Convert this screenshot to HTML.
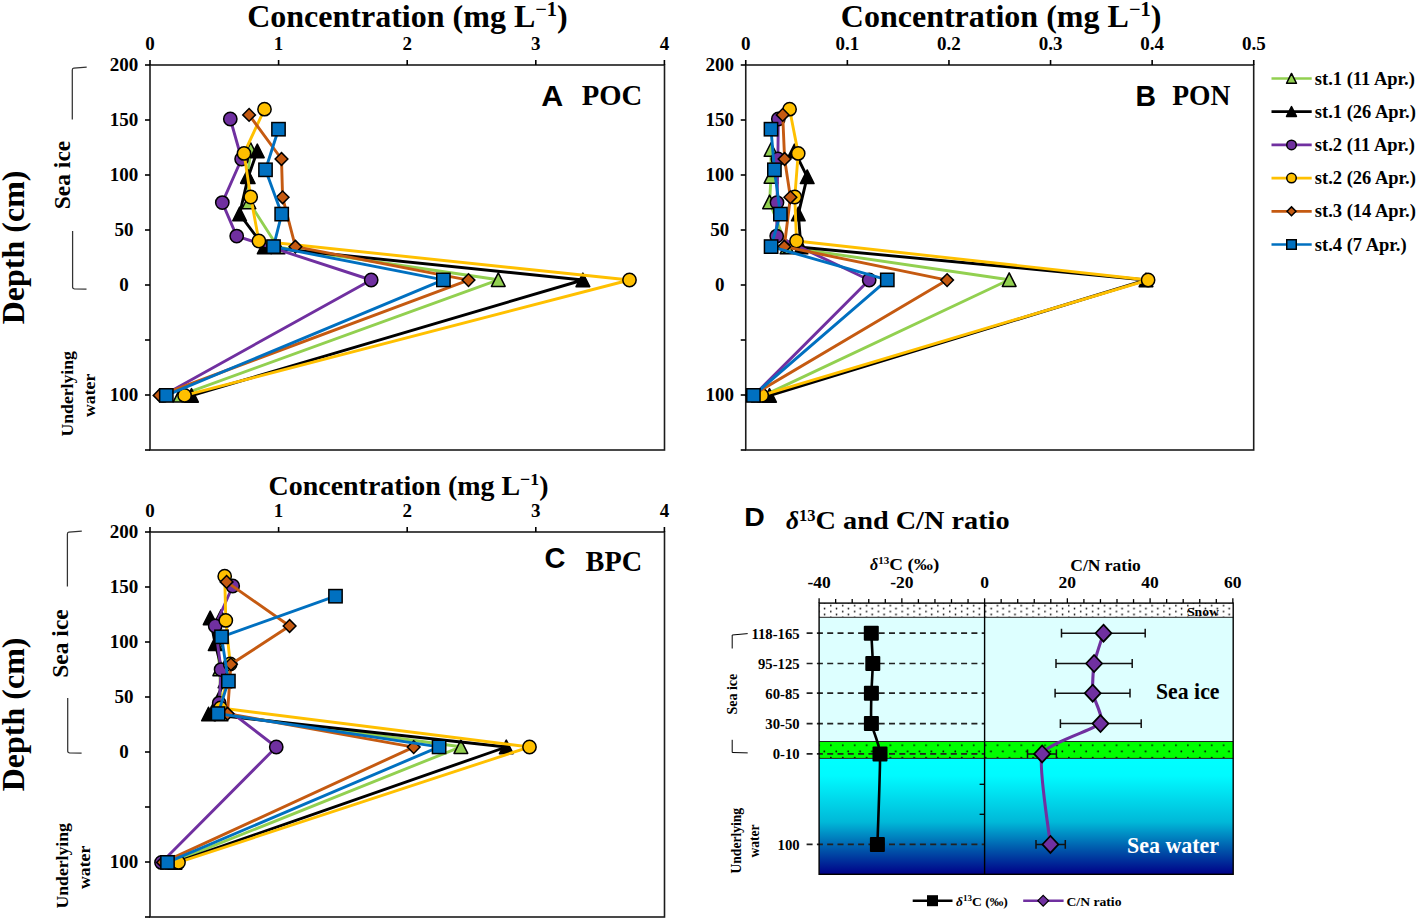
<!DOCTYPE html>
<html><head><meta charset="utf-8"><style>
html,body{margin:0;padding:0;background:#fff;overflow:hidden;}
svg{display:block;}
</style></head><body>
<svg width="1417" height="920" viewBox="0 0 1417 920">
<rect width="1417" height="920" fill="#fff"/>
<text x="247.2" y="27.2" font-family="'Liberation Serif', serif" font-weight="bold" font-size="31.5" textLength="320.5" lengthAdjust="spacingAndGlyphs">Concentration (mg L<tspan font-size="20" dy="-11">−1</tspan><tspan dy="11">)</tspan></text>
<rect x="150" y="65" width="514.5" height="385" fill="none" stroke="#1c1c1c" stroke-width="1.6"/>
<line x1="150.0" y1="65" x2="150.0" y2="60" stroke="#000" stroke-width="1.6"/>
<line x1="278.6" y1="65" x2="278.6" y2="60" stroke="#000" stroke-width="1.6"/>
<line x1="407.2" y1="65" x2="407.2" y2="60" stroke="#000" stroke-width="1.6"/>
<line x1="535.8" y1="65" x2="535.8" y2="60" stroke="#000" stroke-width="1.6"/>
<line x1="664.4" y1="65" x2="664.4" y2="60" stroke="#000" stroke-width="1.6"/>
<line x1="150" y1="65" x2="145" y2="65" stroke="#000" stroke-width="1.6"/>
<line x1="150" y1="120" x2="145" y2="120" stroke="#000" stroke-width="1.6"/>
<line x1="150" y1="175" x2="145" y2="175" stroke="#000" stroke-width="1.6"/>
<line x1="150" y1="230" x2="145" y2="230" stroke="#000" stroke-width="1.6"/>
<line x1="150" y1="285" x2="145" y2="285" stroke="#000" stroke-width="1.6"/>
<line x1="150" y1="340" x2="145" y2="340" stroke="#000" stroke-width="1.6"/>
<line x1="150" y1="395" x2="145" y2="395" stroke="#000" stroke-width="1.6"/>
<line x1="150" y1="450" x2="145" y2="450" stroke="#000" stroke-width="1.6"/>
<text x="150.0" y="50.1" font-family="'Liberation Serif', serif" font-weight="bold" font-size="19" text-anchor="middle">0</text>
<text x="278.6" y="50.1" font-family="'Liberation Serif', serif" font-weight="bold" font-size="19" text-anchor="middle">1</text>
<text x="407.2" y="50.1" font-family="'Liberation Serif', serif" font-weight="bold" font-size="19" text-anchor="middle">2</text>
<text x="535.8" y="50.1" font-family="'Liberation Serif', serif" font-weight="bold" font-size="19" text-anchor="middle">3</text>
<text x="664.4" y="50.1" font-family="'Liberation Serif', serif" font-weight="bold" font-size="19" text-anchor="middle">4</text>
<text x="123.9" y="71.4" font-family="'Liberation Serif', serif" font-weight="bold" font-size="19" text-anchor="middle">200</text>
<text x="123.9" y="126.4" font-family="'Liberation Serif', serif" font-weight="bold" font-size="19" text-anchor="middle">150</text>
<text x="123.9" y="181.4" font-family="'Liberation Serif', serif" font-weight="bold" font-size="19" text-anchor="middle">100</text>
<text x="123.9" y="236.4" font-family="'Liberation Serif', serif" font-weight="bold" font-size="19" text-anchor="middle">50</text>
<text x="123.9" y="291.4" font-family="'Liberation Serif', serif" font-weight="bold" font-size="19" text-anchor="middle">0</text>
<text x="123.9" y="401.4" font-family="'Liberation Serif', serif" font-weight="bold" font-size="19" text-anchor="middle">100</text>
<text x="541.3" y="105.7" font-family="'Liberation Sans', sans-serif" font-weight="bold" font-size="29" textLength="22" lengthAdjust="spacingAndGlyphs">A</text><text x="581.8" y="105.3" font-family="'Liberation Serif', serif" font-weight="bold" font-size="30" textLength="60.5" lengthAdjust="spacingAndGlyphs">POC</text>
<path d="M250.70,149.70 L247.50,176.50 L248.90,202.00 L278.00,247.20 L498.30,279.80 L180.00,395.40" fill="none" stroke="#92D050" stroke-width="2.9" stroke-linejoin="round"/>
<path d="M250.70,142.75 L257.55,156.35 L243.85,156.35Z" fill="#92D050" stroke="#000" stroke-width="1.5" stroke-linejoin="round"/>
<path d="M247.50,169.55 L254.35,183.15 L240.65,183.15Z" fill="#92D050" stroke="#000" stroke-width="1.5" stroke-linejoin="round"/>
<path d="M248.90,195.05 L255.75,208.65 L242.05,208.65Z" fill="#92D050" stroke="#000" stroke-width="1.5" stroke-linejoin="round"/>
<path d="M278.00,240.25 L284.85,253.85 L271.15,253.85Z" fill="#92D050" stroke="#000" stroke-width="1.5" stroke-linejoin="round"/>
<path d="M498.30,272.85 L505.15,286.45 L491.45,286.45Z" fill="#92D050" stroke="#000" stroke-width="1.5" stroke-linejoin="round"/>
<path d="M180.00,388.45 L186.85,402.05 L173.15,402.05Z" fill="#92D050" stroke="#000" stroke-width="1.5" stroke-linejoin="round"/>
<path d="M257.30,151.00 L248.20,176.90 L239.60,214.10 L264.20,247.20 L582.90,280.00 L191.50,395.50" fill="none" stroke="#000000" stroke-width="2.9" stroke-linejoin="round"/>
<path d="M257.30,144.05 L264.15,157.65 L250.45,157.65Z" fill="#000000" stroke="#000" stroke-width="1.5" stroke-linejoin="round"/>
<path d="M248.20,169.95 L255.05,183.55 L241.35,183.55Z" fill="#000000" stroke="#000" stroke-width="1.5" stroke-linejoin="round"/>
<path d="M239.60,207.15 L246.45,220.75 L232.75,220.75Z" fill="#000000" stroke="#000" stroke-width="1.5" stroke-linejoin="round"/>
<path d="M264.20,240.25 L271.05,253.85 L257.35,253.85Z" fill="#000000" stroke="#000" stroke-width="1.5" stroke-linejoin="round"/>
<path d="M582.90,273.05 L589.75,286.65 L576.05,286.65Z" fill="#000000" stroke="#000" stroke-width="1.5" stroke-linejoin="round"/>
<path d="M191.50,388.55 L198.35,402.15 L184.65,402.15Z" fill="#000000" stroke="#000" stroke-width="1.5" stroke-linejoin="round"/>
<path d="M230.30,119.00 L241.60,159.00 L222.30,202.60 L236.70,236.10 L371.20,280.00 L163.00,395.40" fill="none" stroke="#7030A0" stroke-width="2.9" stroke-linejoin="round"/>
<circle cx="230.30" cy="119.00" r="6.65" fill="#7030A0" stroke="#000" stroke-width="1.5"/>
<circle cx="241.60" cy="159.00" r="6.65" fill="#7030A0" stroke="#000" stroke-width="1.5"/>
<circle cx="222.30" cy="202.60" r="6.65" fill="#7030A0" stroke="#000" stroke-width="1.5"/>
<circle cx="236.70" cy="236.10" r="6.65" fill="#7030A0" stroke="#000" stroke-width="1.5"/>
<circle cx="371.20" cy="280.00" r="6.65" fill="#7030A0" stroke="#000" stroke-width="1.5"/>
<circle cx="163.00" cy="395.40" r="6.65" fill="#7030A0" stroke="#000" stroke-width="1.5"/>
<path d="M264.50,109.20 L244.00,153.40 L250.70,197.00 L258.90,241.00 L629.50,280.00 L184.60,395.40" fill="none" stroke="#FFC000" stroke-width="2.9" stroke-linejoin="round"/>
<circle cx="264.50" cy="109.20" r="6.65" fill="#FFC000" stroke="#000" stroke-width="1.5"/>
<circle cx="244.00" cy="153.40" r="6.65" fill="#FFC000" stroke="#000" stroke-width="1.5"/>
<circle cx="250.70" cy="197.00" r="6.65" fill="#FFC000" stroke="#000" stroke-width="1.5"/>
<circle cx="258.90" cy="241.00" r="6.65" fill="#FFC000" stroke="#000" stroke-width="1.5"/>
<circle cx="629.50" cy="280.00" r="6.65" fill="#FFC000" stroke="#000" stroke-width="1.5"/>
<circle cx="184.60" cy="395.40" r="6.65" fill="#FFC000" stroke="#000" stroke-width="1.5"/>
<path d="M249.10,114.90 L281.50,159.00 L282.60,197.30 L295.40,246.70 L468.50,280.10 L159.60,395.40" fill="none" stroke="#C55A11" stroke-width="2.9" stroke-linejoin="round"/>
<path d="M249.10,108.55 L255.45,114.90 L249.10,121.25 L242.75,114.90Z" fill="#C55A11" stroke="#000" stroke-width="1.5"/>
<path d="M281.50,152.65 L287.85,159.00 L281.50,165.35 L275.15,159.00Z" fill="#C55A11" stroke="#000" stroke-width="1.5"/>
<path d="M282.60,190.95 L288.95,197.30 L282.60,203.65 L276.25,197.30Z" fill="#C55A11" stroke="#000" stroke-width="1.5"/>
<path d="M295.40,240.35 L301.75,246.70 L295.40,253.05 L289.05,246.70Z" fill="#C55A11" stroke="#000" stroke-width="1.5"/>
<path d="M468.50,273.75 L474.85,280.10 L468.50,286.45 L462.15,280.10Z" fill="#C55A11" stroke="#000" stroke-width="1.5"/>
<path d="M159.60,389.05 L165.95,395.40 L159.60,401.75 L153.25,395.40Z" fill="#C55A11" stroke="#000" stroke-width="1.5"/>
<path d="M278.50,129.20 L265.50,169.80 L281.70,214.10 L273.50,246.60 L443.40,279.90 L166.30,395.40" fill="none" stroke="#0070C0" stroke-width="2.9" stroke-linejoin="round"/>
<rect x="271.85" y="122.55" width="13.30" height="13.30" fill="#0070C0" stroke="#000" stroke-width="1.5"/>
<rect x="258.85" y="163.15" width="13.30" height="13.30" fill="#0070C0" stroke="#000" stroke-width="1.5"/>
<rect x="275.05" y="207.45" width="13.30" height="13.30" fill="#0070C0" stroke="#000" stroke-width="1.5"/>
<rect x="266.85" y="239.95" width="13.30" height="13.30" fill="#0070C0" stroke="#000" stroke-width="1.5"/>
<rect x="436.75" y="273.25" width="13.30" height="13.30" fill="#0070C0" stroke="#000" stroke-width="1.5"/>
<rect x="159.65" y="388.75" width="13.30" height="13.30" fill="#0070C0" stroke="#000" stroke-width="1.5"/>
<text x="840.8" y="27.2" font-family="'Liberation Serif', serif" font-weight="bold" font-size="31.5" textLength="320.5" lengthAdjust="spacingAndGlyphs">Concentration (mg L<tspan font-size="20" dy="-11">−1</tspan><tspan dy="11">)</tspan></text>
<rect x="745.75" y="65" width="507.95000000000005" height="385" fill="none" stroke="#1c1c1c" stroke-width="1.6"/>
<line x1="745.75" y1="65" x2="745.75" y2="60" stroke="#000" stroke-width="1.6"/>
<line x1="847.35" y1="65" x2="847.35" y2="60" stroke="#000" stroke-width="1.6"/>
<line x1="948.95" y1="65" x2="948.95" y2="60" stroke="#000" stroke-width="1.6"/>
<line x1="1050.55" y1="65" x2="1050.55" y2="60" stroke="#000" stroke-width="1.6"/>
<line x1="1152.15" y1="65" x2="1152.15" y2="60" stroke="#000" stroke-width="1.6"/>
<line x1="1253.75" y1="65" x2="1253.75" y2="60" stroke="#000" stroke-width="1.6"/>
<line x1="745.75" y1="65" x2="740.75" y2="65" stroke="#000" stroke-width="1.6"/>
<line x1="745.75" y1="120" x2="740.75" y2="120" stroke="#000" stroke-width="1.6"/>
<line x1="745.75" y1="175" x2="740.75" y2="175" stroke="#000" stroke-width="1.6"/>
<line x1="745.75" y1="230" x2="740.75" y2="230" stroke="#000" stroke-width="1.6"/>
<line x1="745.75" y1="285" x2="740.75" y2="285" stroke="#000" stroke-width="1.6"/>
<line x1="745.75" y1="340" x2="740.75" y2="340" stroke="#000" stroke-width="1.6"/>
<line x1="745.75" y1="395" x2="740.75" y2="395" stroke="#000" stroke-width="1.6"/>
<line x1="745.75" y1="450" x2="740.75" y2="450" stroke="#000" stroke-width="1.6"/>
<text x="745.75" y="50.1" font-family="'Liberation Serif', serif" font-weight="bold" font-size="19" text-anchor="middle">0</text>
<text x="847.35" y="50.1" font-family="'Liberation Serif', serif" font-weight="bold" font-size="19" text-anchor="middle">0.1</text>
<text x="948.95" y="50.1" font-family="'Liberation Serif', serif" font-weight="bold" font-size="19" text-anchor="middle">0.2</text>
<text x="1050.55" y="50.1" font-family="'Liberation Serif', serif" font-weight="bold" font-size="19" text-anchor="middle">0.3</text>
<text x="1152.15" y="50.1" font-family="'Liberation Serif', serif" font-weight="bold" font-size="19" text-anchor="middle">0.4</text>
<text x="1253.75" y="50.1" font-family="'Liberation Serif', serif" font-weight="bold" font-size="19" text-anchor="middle">0.5</text>
<text x="719.65" y="71.4" font-family="'Liberation Serif', serif" font-weight="bold" font-size="19" text-anchor="middle">200</text>
<text x="719.65" y="126.4" font-family="'Liberation Serif', serif" font-weight="bold" font-size="19" text-anchor="middle">150</text>
<text x="719.65" y="181.4" font-family="'Liberation Serif', serif" font-weight="bold" font-size="19" text-anchor="middle">100</text>
<text x="719.65" y="236.4" font-family="'Liberation Serif', serif" font-weight="bold" font-size="19" text-anchor="middle">50</text>
<text x="719.65" y="291.4" font-family="'Liberation Serif', serif" font-weight="bold" font-size="19" text-anchor="middle">0</text>
<text x="719.65" y="401.4" font-family="'Liberation Serif', serif" font-weight="bold" font-size="19" text-anchor="middle">100</text>
<text x="1135.6" y="105.7" font-family="'Liberation Sans', sans-serif" font-weight="bold" font-size="29" textLength="20.5" lengthAdjust="spacingAndGlyphs">B</text><text x="1172.2" y="105.3" font-family="'Liberation Serif', serif" font-weight="bold" font-size="30" textLength="58.2" lengthAdjust="spacingAndGlyphs">PON</text>
<path d="M771.00,149.70 L771.00,176.50 L769.60,202.00 L787.00,247.20 L1009.20,279.80 L764.00,395.40" fill="none" stroke="#92D050" stroke-width="2.9" stroke-linejoin="round"/>
<path d="M771.00,142.75 L777.85,156.35 L764.15,156.35Z" fill="#92D050" stroke="#000" stroke-width="1.5" stroke-linejoin="round"/>
<path d="M771.00,169.55 L777.85,183.15 L764.15,183.15Z" fill="#92D050" stroke="#000" stroke-width="1.5" stroke-linejoin="round"/>
<path d="M769.60,195.05 L776.45,208.65 L762.75,208.65Z" fill="#92D050" stroke="#000" stroke-width="1.5" stroke-linejoin="round"/>
<path d="M787.00,240.25 L793.85,253.85 L780.15,253.85Z" fill="#92D050" stroke="#000" stroke-width="1.5" stroke-linejoin="round"/>
<path d="M1009.20,272.85 L1016.05,286.45 L1002.35,286.45Z" fill="#92D050" stroke="#000" stroke-width="1.5" stroke-linejoin="round"/>
<path d="M764.00,388.45 L770.85,402.05 L757.15,402.05Z" fill="#92D050" stroke="#000" stroke-width="1.5" stroke-linejoin="round"/>
<path d="M794.40,151.00 L807.20,176.90 L798.30,214.10 L801.00,247.20 L1146.00,280.00 L769.50,395.50" fill="none" stroke="#000000" stroke-width="2.9" stroke-linejoin="round"/>
<path d="M794.40,144.05 L801.25,157.65 L787.55,157.65Z" fill="#000000" stroke="#000" stroke-width="1.5" stroke-linejoin="round"/>
<path d="M807.20,169.95 L814.05,183.55 L800.35,183.55Z" fill="#000000" stroke="#000" stroke-width="1.5" stroke-linejoin="round"/>
<path d="M798.30,207.15 L805.15,220.75 L791.45,220.75Z" fill="#000000" stroke="#000" stroke-width="1.5" stroke-linejoin="round"/>
<path d="M801.00,240.25 L807.85,253.85 L794.15,253.85Z" fill="#000000" stroke="#000" stroke-width="1.5" stroke-linejoin="round"/>
<path d="M1146.00,273.05 L1152.85,286.65 L1139.15,286.65Z" fill="#000000" stroke="#000" stroke-width="1.5" stroke-linejoin="round"/>
<path d="M769.50,388.55 L776.35,402.15 L762.65,402.15Z" fill="#000000" stroke="#000" stroke-width="1.5" stroke-linejoin="round"/>
<path d="M778.30,119.00 L777.90,159.00 L777.00,202.60 L776.70,236.10 L869.20,280.00 L754.00,395.40" fill="none" stroke="#7030A0" stroke-width="2.9" stroke-linejoin="round"/>
<circle cx="778.30" cy="119.00" r="6.65" fill="#7030A0" stroke="#000" stroke-width="1.5"/>
<circle cx="777.90" cy="159.00" r="6.65" fill="#7030A0" stroke="#000" stroke-width="1.5"/>
<circle cx="777.00" cy="202.60" r="6.65" fill="#7030A0" stroke="#000" stroke-width="1.5"/>
<circle cx="776.70" cy="236.10" r="6.65" fill="#7030A0" stroke="#000" stroke-width="1.5"/>
<circle cx="869.20" cy="280.00" r="6.65" fill="#7030A0" stroke="#000" stroke-width="1.5"/>
<circle cx="754.00" cy="395.40" r="6.65" fill="#7030A0" stroke="#000" stroke-width="1.5"/>
<path d="M789.60,109.20 L798.20,153.40 L794.80,197.00 L796.50,241.00 L1148.10,280.00 L761.70,395.40" fill="none" stroke="#FFC000" stroke-width="2.9" stroke-linejoin="round"/>
<circle cx="789.60" cy="109.20" r="6.65" fill="#FFC000" stroke="#000" stroke-width="1.5"/>
<circle cx="798.20" cy="153.40" r="6.65" fill="#FFC000" stroke="#000" stroke-width="1.5"/>
<circle cx="794.80" cy="197.00" r="6.65" fill="#FFC000" stroke="#000" stroke-width="1.5"/>
<circle cx="796.50" cy="241.00" r="6.65" fill="#FFC000" stroke="#000" stroke-width="1.5"/>
<circle cx="1148.10" cy="280.00" r="6.65" fill="#FFC000" stroke="#000" stroke-width="1.5"/>
<circle cx="761.70" cy="395.40" r="6.65" fill="#FFC000" stroke="#000" stroke-width="1.5"/>
<path d="M782.70,114.90 L784.60,159.00 L790.40,197.30 L784.30,246.70 L947.10,280.10 L752.00,395.40" fill="none" stroke="#C55A11" stroke-width="2.9" stroke-linejoin="round"/>
<path d="M782.70,108.55 L789.05,114.90 L782.70,121.25 L776.35,114.90Z" fill="#C55A11" stroke="#000" stroke-width="1.5"/>
<path d="M784.60,152.65 L790.95,159.00 L784.60,165.35 L778.25,159.00Z" fill="#C55A11" stroke="#000" stroke-width="1.5"/>
<path d="M790.40,190.95 L796.75,197.30 L790.40,203.65 L784.05,197.30Z" fill="#C55A11" stroke="#000" stroke-width="1.5"/>
<path d="M784.30,240.35 L790.65,246.70 L784.30,253.05 L777.95,246.70Z" fill="#C55A11" stroke="#000" stroke-width="1.5"/>
<path d="M947.10,273.75 L953.45,280.10 L947.10,286.45 L940.75,280.10Z" fill="#C55A11" stroke="#000" stroke-width="1.5"/>
<path d="M752.00,389.05 L758.35,395.40 L752.00,401.75 L745.65,395.40Z" fill="#C55A11" stroke="#000" stroke-width="1.5"/>
<path d="M771.00,129.20 L774.40,169.80 L780.40,214.10 L771.10,246.60 L887.30,279.90 L753.40,395.40" fill="none" stroke="#0070C0" stroke-width="2.9" stroke-linejoin="round"/>
<rect x="764.35" y="122.55" width="13.30" height="13.30" fill="#0070C0" stroke="#000" stroke-width="1.5"/>
<rect x="767.75" y="163.15" width="13.30" height="13.30" fill="#0070C0" stroke="#000" stroke-width="1.5"/>
<rect x="773.75" y="207.45" width="13.30" height="13.30" fill="#0070C0" stroke="#000" stroke-width="1.5"/>
<rect x="764.45" y="239.95" width="13.30" height="13.30" fill="#0070C0" stroke="#000" stroke-width="1.5"/>
<rect x="880.65" y="273.25" width="13.30" height="13.30" fill="#0070C0" stroke="#000" stroke-width="1.5"/>
<rect x="746.75" y="388.75" width="13.30" height="13.30" fill="#0070C0" stroke="#000" stroke-width="1.5"/>
<line x1="1271.5" y1="78.5" x2="1311.7" y2="78.5" stroke="#92D050" stroke-width="2.7"/>
<path d="M1291.50,73.45 L1296.45,83.25 L1286.55,83.25Z" fill="#92D050" stroke="#000" stroke-width="1.5" stroke-linejoin="round"/>
<text x="1314.8" y="84.6" font-family="'Liberation Serif', serif" font-weight="bold" font-size="18.5">st.1 (11 Apr.)</text>
<line x1="1271.5" y1="111.7" x2="1311.7" y2="111.7" stroke="#000000" stroke-width="2.7"/>
<path d="M1291.50,106.65 L1296.45,116.45 L1286.55,116.45Z" fill="#000000" stroke="#000" stroke-width="1.5" stroke-linejoin="round"/>
<text x="1314.8" y="117.8" font-family="'Liberation Serif', serif" font-weight="bold" font-size="18.5">st.1 (26 Apr.)</text>
<line x1="1271.5" y1="144.9" x2="1311.7" y2="144.9" stroke="#7030A0" stroke-width="2.7"/>
<circle cx="1291.50" cy="144.90" r="4.75" fill="#7030A0" stroke="#000" stroke-width="1.5"/>
<text x="1314.8" y="151.0" font-family="'Liberation Serif', serif" font-weight="bold" font-size="18.5">st.2 (11 Apr.)</text>
<line x1="1271.5" y1="178.10000000000002" x2="1311.7" y2="178.10000000000002" stroke="#FFC000" stroke-width="2.7"/>
<circle cx="1291.50" cy="178.10" r="4.75" fill="#FFC000" stroke="#000" stroke-width="1.5"/>
<text x="1314.8" y="184.20000000000002" font-family="'Liberation Serif', serif" font-weight="bold" font-size="18.5">st.2 (26 Apr.)</text>
<line x1="1271.5" y1="211.3" x2="1311.7" y2="211.3" stroke="#C55A11" stroke-width="2.7"/>
<path d="M1291.50,206.85 L1295.95,211.30 L1291.50,215.75 L1287.05,211.30Z" fill="#C55A11" stroke="#000" stroke-width="1.5"/>
<text x="1314.8" y="217.4" font-family="'Liberation Serif', serif" font-weight="bold" font-size="18.5">st.3 (14 Apr.)</text>
<line x1="1271.5" y1="244.5" x2="1311.7" y2="244.5" stroke="#0070C0" stroke-width="2.7"/>
<rect x="1286.75" y="239.75" width="9.50" height="9.50" fill="#0070C0" stroke="#000" stroke-width="1.5"/>
<text x="1314.8" y="250.6" font-family="'Liberation Serif', serif" font-weight="bold" font-size="18.5">st.4 (7 Apr.)</text>
<text transform="translate(24.3,247.4) rotate(-90)" font-family="'Liberation Serif', serif" font-weight="bold" font-size="32" text-anchor="middle">Depth (cm)</text>
<text transform="translate(69.8,175) rotate(-90)" font-family="'Liberation Serif', serif" font-weight="bold" font-size="23.5" text-anchor="middle">Sea ice</text>
<path d="M86.7,67.2 L73.8,68.2 Q72.3,68.4 72.3,70 L72.3,119.6" fill="none" stroke="#333" stroke-width="1.25"/>
<path d="M72.6,230.9 L72.6,287.6 Q72.6,288.6 74.3,288.8 L86.5,289.1" fill="none" stroke="#333" stroke-width="1.25"/>
<text transform="translate(72.7,393.8) rotate(-90)" font-family="'Liberation Serif', serif" font-weight="bold" font-size="17.7" text-anchor="middle">Underlying</text>
<text transform="translate(94.8,395.3) rotate(-90)" font-family="'Liberation Serif', serif" font-weight="bold" font-size="17.7" text-anchor="middle">water</text>
<text transform="translate(24.3,714.4) rotate(-90)" font-family="'Liberation Serif', serif" font-weight="bold" font-size="32" text-anchor="middle">Depth (cm)</text>
<text transform="translate(68.3,643.5) rotate(-90)" font-family="'Liberation Serif', serif" font-weight="bold" font-size="23.5" text-anchor="middle">Sea ice</text>
<path d="M81.80000000000001,531.2 L68.9,532.2 Q67.4,532.4 67.4,534 L67.4,586.6" fill="none" stroke="#333" stroke-width="1.25"/>
<path d="M67.7,697.9 L67.7,751.6 Q67.7,752.6 69.4,752.8 L81.60000000000001,753.1" fill="none" stroke="#333" stroke-width="1.25"/>
<text transform="translate(68.2,865.8) rotate(-90)" font-family="'Liberation Serif', serif" font-weight="bold" font-size="17.7" text-anchor="middle">Underlying</text>
<text transform="translate(90.3,867.3) rotate(-90)" font-family="'Liberation Serif', serif" font-weight="bold" font-size="17.7" text-anchor="middle">water</text>
<text x="268.5" y="495.2" font-family="'Liberation Serif', serif" font-weight="bold" font-size="27.5" textLength="280" lengthAdjust="spacingAndGlyphs">Concentration (mg L<tspan font-size="17.5" dy="-10">−1</tspan><tspan dy="10">)</tspan></text>
<rect x="150" y="532" width="514.5" height="385" fill="none" stroke="#1c1c1c" stroke-width="1.6"/>
<line x1="150.0" y1="532" x2="150.0" y2="527" stroke="#000" stroke-width="1.6"/>
<line x1="278.6" y1="532" x2="278.6" y2="527" stroke="#000" stroke-width="1.6"/>
<line x1="407.2" y1="532" x2="407.2" y2="527" stroke="#000" stroke-width="1.6"/>
<line x1="535.8" y1="532" x2="535.8" y2="527" stroke="#000" stroke-width="1.6"/>
<line x1="664.4" y1="532" x2="664.4" y2="527" stroke="#000" stroke-width="1.6"/>
<line x1="150" y1="532" x2="145" y2="532" stroke="#000" stroke-width="1.6"/>
<line x1="150" y1="587" x2="145" y2="587" stroke="#000" stroke-width="1.6"/>
<line x1="150" y1="642" x2="145" y2="642" stroke="#000" stroke-width="1.6"/>
<line x1="150" y1="697" x2="145" y2="697" stroke="#000" stroke-width="1.6"/>
<line x1="150" y1="752" x2="145" y2="752" stroke="#000" stroke-width="1.6"/>
<line x1="150" y1="807" x2="145" y2="807" stroke="#000" stroke-width="1.6"/>
<line x1="150" y1="862" x2="145" y2="862" stroke="#000" stroke-width="1.6"/>
<line x1="150" y1="917" x2="145" y2="917" stroke="#000" stroke-width="1.6"/>
<text x="150.0" y="517.1" font-family="'Liberation Serif', serif" font-weight="bold" font-size="19" text-anchor="middle">0</text>
<text x="278.6" y="517.1" font-family="'Liberation Serif', serif" font-weight="bold" font-size="19" text-anchor="middle">1</text>
<text x="407.2" y="517.1" font-family="'Liberation Serif', serif" font-weight="bold" font-size="19" text-anchor="middle">2</text>
<text x="535.8" y="517.1" font-family="'Liberation Serif', serif" font-weight="bold" font-size="19" text-anchor="middle">3</text>
<text x="664.4" y="517.1" font-family="'Liberation Serif', serif" font-weight="bold" font-size="19" text-anchor="middle">4</text>
<text x="123.9" y="538.4" font-family="'Liberation Serif', serif" font-weight="bold" font-size="19" text-anchor="middle">200</text>
<text x="123.9" y="593.4" font-family="'Liberation Serif', serif" font-weight="bold" font-size="19" text-anchor="middle">150</text>
<text x="123.9" y="648.4" font-family="'Liberation Serif', serif" font-weight="bold" font-size="19" text-anchor="middle">100</text>
<text x="123.9" y="703.4" font-family="'Liberation Serif', serif" font-weight="bold" font-size="19" text-anchor="middle">50</text>
<text x="123.9" y="758.4" font-family="'Liberation Serif', serif" font-weight="bold" font-size="19" text-anchor="middle">0</text>
<text x="123.9" y="868.4" font-family="'Liberation Serif', serif" font-weight="bold" font-size="19" text-anchor="middle">100</text>
<text x="544.6" y="568.2" font-family="'Liberation Sans', sans-serif" font-weight="bold" font-size="29">C</text><text x="585.6" y="570.7" font-family="'Liberation Serif', serif" font-weight="bold" font-size="30" textLength="56.5" lengthAdjust="spacingAndGlyphs">BPC</text>
<path d="M221.00,616.70 L217.00,643.50 L219.80,669.00 L221.00,714.20 L460.90,746.80 L172.00,862.40" fill="none" stroke="#92D050" stroke-width="2.9" stroke-linejoin="round"/>
<path d="M221.00,609.75 L227.85,623.35 L214.15,623.35Z" fill="#92D050" stroke="#000" stroke-width="1.5" stroke-linejoin="round"/>
<path d="M217.00,636.55 L223.85,650.15 L210.15,650.15Z" fill="#92D050" stroke="#000" stroke-width="1.5" stroke-linejoin="round"/>
<path d="M219.80,662.05 L226.65,675.65 L212.95,675.65Z" fill="#92D050" stroke="#000" stroke-width="1.5" stroke-linejoin="round"/>
<path d="M221.00,707.25 L227.85,720.85 L214.15,720.85Z" fill="#92D050" stroke="#000" stroke-width="1.5" stroke-linejoin="round"/>
<path d="M460.90,739.85 L467.75,753.45 L454.05,753.45Z" fill="#92D050" stroke="#000" stroke-width="1.5" stroke-linejoin="round"/>
<path d="M172.00,855.45 L178.85,869.05 L165.15,869.05Z" fill="#92D050" stroke="#000" stroke-width="1.5" stroke-linejoin="round"/>
<path d="M210.20,618.00 L215.20,643.90 L225.00,681.10 L208.50,714.20 L506.30,747.00 L175.00,862.50" fill="none" stroke="#000000" stroke-width="2.9" stroke-linejoin="round"/>
<path d="M210.20,611.05 L217.05,624.65 L203.35,624.65Z" fill="#000000" stroke="#000" stroke-width="1.5" stroke-linejoin="round"/>
<path d="M215.20,636.95 L222.05,650.55 L208.35,650.55Z" fill="#000000" stroke="#000" stroke-width="1.5" stroke-linejoin="round"/>
<path d="M225.00,674.15 L231.85,687.75 L218.15,687.75Z" fill="#000000" stroke="#000" stroke-width="1.5" stroke-linejoin="round"/>
<path d="M208.50,707.25 L215.35,720.85 L201.65,720.85Z" fill="#000000" stroke="#000" stroke-width="1.5" stroke-linejoin="round"/>
<path d="M506.30,740.05 L513.15,753.65 L499.45,753.65Z" fill="#000000" stroke="#000" stroke-width="1.5" stroke-linejoin="round"/>
<path d="M175.00,855.55 L181.85,869.15 L168.15,869.15Z" fill="#000000" stroke="#000" stroke-width="1.5" stroke-linejoin="round"/>
<path d="M232.70,586.00 L215.20,626.00 L221.10,669.60 L219.20,703.10 L276.25,747.00 L161.50,862.40" fill="none" stroke="#7030A0" stroke-width="2.9" stroke-linejoin="round"/>
<circle cx="232.70" cy="586.00" r="6.65" fill="#7030A0" stroke="#000" stroke-width="1.5"/>
<circle cx="215.20" cy="626.00" r="6.65" fill="#7030A0" stroke="#000" stroke-width="1.5"/>
<circle cx="221.10" cy="669.60" r="6.65" fill="#7030A0" stroke="#000" stroke-width="1.5"/>
<circle cx="219.20" cy="703.10" r="6.65" fill="#7030A0" stroke="#000" stroke-width="1.5"/>
<circle cx="276.25" cy="747.00" r="6.65" fill="#7030A0" stroke="#000" stroke-width="1.5"/>
<circle cx="161.50" cy="862.40" r="6.65" fill="#7030A0" stroke="#000" stroke-width="1.5"/>
<path d="M224.70,576.20 L225.80,620.40 L230.20,664.00 L220.50,708.00 L529.50,747.00 L178.50,862.40" fill="none" stroke="#FFC000" stroke-width="2.9" stroke-linejoin="round"/>
<circle cx="224.70" cy="576.20" r="6.65" fill="#FFC000" stroke="#000" stroke-width="1.5"/>
<circle cx="225.80" cy="620.40" r="6.65" fill="#FFC000" stroke="#000" stroke-width="1.5"/>
<circle cx="230.20" cy="664.00" r="6.65" fill="#FFC000" stroke="#000" stroke-width="1.5"/>
<circle cx="220.50" cy="708.00" r="6.65" fill="#FFC000" stroke="#000" stroke-width="1.5"/>
<circle cx="529.50" cy="747.00" r="6.65" fill="#FFC000" stroke="#000" stroke-width="1.5"/>
<circle cx="178.50" cy="862.40" r="6.65" fill="#FFC000" stroke="#000" stroke-width="1.5"/>
<path d="M226.60,581.90 L289.60,626.00 L230.90,664.30 L227.50,713.70 L413.70,747.10 L163.00,862.40" fill="none" stroke="#C55A11" stroke-width="2.9" stroke-linejoin="round"/>
<path d="M226.60,575.55 L232.95,581.90 L226.60,588.25 L220.25,581.90Z" fill="#C55A11" stroke="#000" stroke-width="1.5"/>
<path d="M289.60,619.65 L295.95,626.00 L289.60,632.35 L283.25,626.00Z" fill="#C55A11" stroke="#000" stroke-width="1.5"/>
<path d="M230.90,657.95 L237.25,664.30 L230.90,670.65 L224.55,664.30Z" fill="#C55A11" stroke="#000" stroke-width="1.5"/>
<path d="M227.50,707.35 L233.85,713.70 L227.50,720.05 L221.15,713.70Z" fill="#C55A11" stroke="#000" stroke-width="1.5"/>
<path d="M413.70,740.75 L420.05,747.10 L413.70,753.45 L407.35,747.10Z" fill="#C55A11" stroke="#000" stroke-width="1.5"/>
<path d="M163.00,856.05 L169.35,862.40 L163.00,868.75 L156.65,862.40Z" fill="#C55A11" stroke="#000" stroke-width="1.5"/>
<path d="M335.50,596.20 L221.50,636.80 L228.40,681.10 L218.10,713.60 L439.10,746.90 L167.50,862.40" fill="none" stroke="#0070C0" stroke-width="2.9" stroke-linejoin="round"/>
<rect x="328.85" y="589.55" width="13.30" height="13.30" fill="#0070C0" stroke="#000" stroke-width="1.5"/>
<rect x="214.85" y="630.15" width="13.30" height="13.30" fill="#0070C0" stroke="#000" stroke-width="1.5"/>
<rect x="221.75" y="674.45" width="13.30" height="13.30" fill="#0070C0" stroke="#000" stroke-width="1.5"/>
<rect x="211.45" y="706.95" width="13.30" height="13.30" fill="#0070C0" stroke="#000" stroke-width="1.5"/>
<rect x="432.45" y="740.25" width="13.30" height="13.30" fill="#0070C0" stroke="#000" stroke-width="1.5"/>
<rect x="160.85" y="855.75" width="13.30" height="13.30" fill="#0070C0" stroke="#000" stroke-width="1.5"/>
<defs>
<pattern id="dots" x="0" y="0" width="11.9" height="5.9" patternUnits="userSpaceOnUse">
<circle cx="9.7" cy="3.7" r="0.85" fill="#000"/><circle cx="3.5" cy="0.75" r="0.85" fill="#000"/><circle cx="3.5" cy="6.65" r="0.85" fill="#000"/>
</pattern>
<pattern id="gdots" x="0" y="0" width="11.9" height="12.3" patternUnits="userSpaceOnUse">
<circle cx="9.8" cy="7.2" r="0.9" fill="#000"/><circle cx="3.25" cy="1.2" r="0.9" fill="#000"/>
</pattern>
<linearGradient id="sea" x1="0" y1="0" x2="0" y2="1">
<stop offset="0" stop-color="#00FFFF"/><stop offset="0.15" stop-color="#00FAFF"/><stop offset="0.55" stop-color="#00B8D8"/><stop offset="0.8" stop-color="#0050A8"/><stop offset="1" stop-color="#000088"/>
</linearGradient>
</defs>
<rect x="819.1" y="603.1" width="414.1" height="14.199999999999932" fill="#fff"/>
<rect x="819.1" y="603.1" width="414.1" height="14.199999999999932" fill="url(#dots)"/>
<rect x="819.1" y="617.3" width="414.1" height="124.20000000000005" fill="#DDFFFF"/>
<rect x="819.1" y="741.5" width="414.1" height="16.899999999999977" fill="#00FF00"/>
<rect x="819.1" y="741.5" width="414.1" height="16.899999999999977" fill="url(#gdots)"/>
<rect x="819.1" y="758.4" width="414.1" height="115.89999999999998" fill="url(#sea)"/>
<line x1="819.1" y1="617.3" x2="1233.2" y2="617.3" stroke="#222" stroke-width="1"/>
<line x1="819.1" y1="741.5" x2="1233.2" y2="741.5" stroke="#222" stroke-width="1"/>
<line x1="819.1" y1="758.4" x2="1233.2" y2="758.4" stroke="#222" stroke-width="1"/>
<text x="1187" y="615.6" font-family="'Liberation Serif', serif" font-weight="bold" font-size="13" textLength="32" lengthAdjust="spacingAndGlyphs">Snow</text>
<line x1="805.6" y1="633.2" x2="984.6" y2="633.2" stroke="#222" stroke-width="1.7" stroke-dasharray="6,4.3" stroke-dashoffset="-1"/>
<text x="799.6" y="638.5" font-family="'Liberation Serif', serif" font-weight="bold" font-size="14.7" text-anchor="end">118-165</text>
<line x1="805.6" y1="663.5" x2="984.6" y2="663.5" stroke="#222" stroke-width="1.7" stroke-dasharray="6,4.3" stroke-dashoffset="-1"/>
<text x="799.6" y="668.8" font-family="'Liberation Serif', serif" font-weight="bold" font-size="14.7" text-anchor="end">95-125</text>
<line x1="805.6" y1="693.2" x2="984.6" y2="693.2" stroke="#222" stroke-width="1.7" stroke-dasharray="6,4.3" stroke-dashoffset="-1"/>
<text x="799.6" y="698.5" font-family="'Liberation Serif', serif" font-weight="bold" font-size="14.7" text-anchor="end">60-85</text>
<line x1="805.6" y1="723.6" x2="984.6" y2="723.6" stroke="#222" stroke-width="1.7" stroke-dasharray="6,4.3" stroke-dashoffset="-1"/>
<text x="799.6" y="728.9" font-family="'Liberation Serif', serif" font-weight="bold" font-size="14.7" text-anchor="end">30-50</text>
<line x1="805.6" y1="753.9" x2="984.6" y2="753.9" stroke="#222" stroke-width="1.7" stroke-dasharray="6,4.3" stroke-dashoffset="-1"/>
<text x="799.6" y="759.1999999999999" font-family="'Liberation Serif', serif" font-weight="bold" font-size="14.7" text-anchor="end">0-10</text>
<line x1="805.6" y1="844.4" x2="984.6" y2="844.4" stroke="#222" stroke-width="1.7" stroke-dasharray="6,4.3" stroke-dashoffset="-1"/>
<text x="799.6" y="849.6999999999999" font-family="'Liberation Serif', serif" font-weight="bold" font-size="14.7" text-anchor="end">100</text>
<line x1="979.6" y1="784.3" x2="984.6" y2="784.3" stroke="#000" stroke-width="1.3"/>
<line x1="979.6" y1="814.3" x2="984.6" y2="814.3" stroke="#000" stroke-width="1.3"/>
<rect x="819.1" y="603.1" width="414.1" height="271.19999999999993" fill="none" stroke="#000" stroke-width="1.4"/>
<line x1="984.6" y1="603.1" x2="984.6" y2="874.3" stroke="#000" stroke-width="1.4"/>
<line x1="819.10" y1="603.1" x2="819.10" y2="598.3000000000001" stroke="#000" stroke-width="1.3"/>
<line x1="835.65" y1="603.1" x2="835.65" y2="599.1" stroke="#000" stroke-width="1.3"/>
<line x1="852.20" y1="603.1" x2="852.20" y2="599.1" stroke="#000" stroke-width="1.3"/>
<line x1="868.75" y1="603.1" x2="868.75" y2="599.1" stroke="#000" stroke-width="1.3"/>
<line x1="885.30" y1="603.1" x2="885.30" y2="599.1" stroke="#000" stroke-width="1.3"/>
<line x1="901.85" y1="603.1" x2="901.85" y2="598.3000000000001" stroke="#000" stroke-width="1.3"/>
<line x1="918.40" y1="603.1" x2="918.40" y2="599.1" stroke="#000" stroke-width="1.3"/>
<line x1="934.95" y1="603.1" x2="934.95" y2="599.1" stroke="#000" stroke-width="1.3"/>
<line x1="951.50" y1="603.1" x2="951.50" y2="599.1" stroke="#000" stroke-width="1.3"/>
<line x1="968.05" y1="603.1" x2="968.05" y2="599.1" stroke="#000" stroke-width="1.3"/>
<line x1="984.60" y1="603.1" x2="984.60" y2="598.3000000000001" stroke="#000" stroke-width="1.3"/>
<line x1="1001.15" y1="603.1" x2="1001.15" y2="599.1" stroke="#000" stroke-width="1.3"/>
<line x1="1017.70" y1="603.1" x2="1017.70" y2="599.1" stroke="#000" stroke-width="1.3"/>
<line x1="1034.25" y1="603.1" x2="1034.25" y2="599.1" stroke="#000" stroke-width="1.3"/>
<line x1="1050.80" y1="603.1" x2="1050.80" y2="599.1" stroke="#000" stroke-width="1.3"/>
<line x1="1067.35" y1="603.1" x2="1067.35" y2="598.3000000000001" stroke="#000" stroke-width="1.3"/>
<line x1="1083.90" y1="603.1" x2="1083.90" y2="599.1" stroke="#000" stroke-width="1.3"/>
<line x1="1100.45" y1="603.1" x2="1100.45" y2="599.1" stroke="#000" stroke-width="1.3"/>
<line x1="1117.00" y1="603.1" x2="1117.00" y2="599.1" stroke="#000" stroke-width="1.3"/>
<line x1="1133.55" y1="603.1" x2="1133.55" y2="599.1" stroke="#000" stroke-width="1.3"/>
<line x1="1150.10" y1="603.1" x2="1150.10" y2="598.3000000000001" stroke="#000" stroke-width="1.3"/>
<line x1="1166.65" y1="603.1" x2="1166.65" y2="599.1" stroke="#000" stroke-width="1.3"/>
<line x1="1183.20" y1="603.1" x2="1183.20" y2="599.1" stroke="#000" stroke-width="1.3"/>
<line x1="1199.75" y1="603.1" x2="1199.75" y2="599.1" stroke="#000" stroke-width="1.3"/>
<line x1="1216.30" y1="603.1" x2="1216.30" y2="599.1" stroke="#000" stroke-width="1.3"/>
<line x1="1232.85" y1="603.1" x2="1232.85" y2="598.3000000000001" stroke="#000" stroke-width="1.3"/>
<text x="819.10" y="587.6" font-family="'Liberation Serif', serif" font-weight="bold" font-size="17.5" text-anchor="middle">-40</text>
<text x="901.85" y="587.6" font-family="'Liberation Serif', serif" font-weight="bold" font-size="17.5" text-anchor="middle">-20</text>
<text x="984.60" y="587.6" font-family="'Liberation Serif', serif" font-weight="bold" font-size="17.5" text-anchor="middle">0</text>
<text x="1067.35" y="587.6" font-family="'Liberation Serif', serif" font-weight="bold" font-size="17.5" text-anchor="middle">20</text>
<text x="1150.10" y="587.6" font-family="'Liberation Serif', serif" font-weight="bold" font-size="17.5" text-anchor="middle">40</text>
<text x="1232.85" y="587.6" font-family="'Liberation Serif', serif" font-weight="bold" font-size="17.5" text-anchor="middle">60</text>
<text x="870" y="569.8" font-family="'Liberation Serif', serif" font-weight="bold" font-size="16"><tspan font-style="italic">δ</tspan><tspan font-size="11" dy="-5.5">13</tspan><tspan dy="5.5" textLength="50" lengthAdjust="spacingAndGlyphs">C (‰)</tspan></text>
<text x="1070.3" y="570.8" font-family="'Liberation Serif', serif" font-weight="bold" font-size="17.5">C/N ratio</text>
<text x="744.3" y="525.7" font-family="'Liberation Sans', sans-serif" font-weight="bold" font-size="26" textLength="20.5" lengthAdjust="spacingAndGlyphs">D</text>
<text x="786" y="528.7" font-family="'Liberation Serif', serif" font-weight="bold" font-size="25.5"><tspan font-style="italic">δ</tspan><tspan font-size="16.5" dy="-8">13</tspan><tspan dy="8" textLength="194" lengthAdjust="spacingAndGlyphs">C and C/N ratio</tspan></text>
<path d="M747.7,633.6 L732.2,635 L732.2,648.5" fill="none" stroke="#000" stroke-width="1"/>
<path d="M732.2,739.8 L732.2,752.5 L747.7,752.9" fill="none" stroke="#000" stroke-width="1"/>
<text transform="translate(737.2,694.2) rotate(-90)" font-family="'Liberation Serif', serif" font-weight="bold" font-size="14" text-anchor="middle">Sea ice</text>
<text transform="translate(741,840.7) rotate(-90)" font-family="'Liberation Serif', serif" font-weight="bold" font-size="13.6" text-anchor="middle">Underlying</text>
<text transform="translate(758.6,841) rotate(-90)" font-family="'Liberation Serif', serif" font-weight="bold" font-size="13.6" text-anchor="middle">water</text>
<text x="1156" y="698.7" font-family="'Liberation Serif', serif" font-weight="bold" font-size="22.5" textLength="63.5" lengthAdjust="spacingAndGlyphs">Sea ice</text>
<text x="1127" y="853" font-family="'Liberation Serif', serif" font-weight="bold" font-size="22.5" fill="#fff" textLength="92" lengthAdjust="spacingAndGlyphs">Sea water</text>
<path d="M871.3,633.2 C871.42,635.73 872.79,658.50 872.8,663.5 C872.81,668.50 871.52,688.19 871.4,693.2 C871.28,698.21 870.68,718.54 871.4,723.6 C872.12,728.66 879.50,743.83 880,753.9 C880.50,763.97 877.62,836.86 877.4,844.4" fill="none" stroke="#000" stroke-width="2.6"/>
<rect x="863.8" y="625.7" width="15" height="15" rx="1" fill="#000"/>
<rect x="865.3" y="656.0" width="15" height="15" rx="1" fill="#000"/>
<rect x="863.9" y="685.7" width="15" height="15" rx="1" fill="#000"/>
<rect x="863.9" y="716.1" width="15" height="15" rx="1" fill="#000"/>
<rect x="872.5" y="746.4" width="15" height="15" rx="1" fill="#000"/>
<rect x="869.9" y="836.9" width="15" height="15" rx="1" fill="#000"/>
<path d="M1061.5,633.2 L1145.2,633.2 M1061.5,628.8000000000001 L1061.5,637.6 M1145.2,628.8000000000001 L1145.2,637.6" stroke="#111" stroke-width="1.5" fill="none"/>
<path d="M1056,663.5 L1132.2,663.5 M1056,659.1 L1056,667.9 M1132.2,659.1 L1132.2,667.9" stroke="#111" stroke-width="1.5" fill="none"/>
<path d="M1055.1,693.2 L1130,693.2 M1055.1,688.8000000000001 L1055.1,697.6 M1130,688.8000000000001 L1130,697.6" stroke="#111" stroke-width="1.5" fill="none"/>
<path d="M1060.4,723.6 L1141.2,723.6 M1060.4,719.2 L1060.4,728.0 M1141.2,719.2 L1141.2,728.0" stroke="#111" stroke-width="1.5" fill="none"/>
<path d="M1027.5,753.9 L1056.4,753.9 M1027.5,749.5 L1027.5,758.3 M1056.4,749.5 L1056.4,758.3" stroke="#111" stroke-width="1.5" fill="none"/>
<path d="M1036,844.4 L1065.3,844.4 M1036,840.0 L1036,848.8 M1065.3,840.0 L1065.3,848.8" stroke="#111" stroke-width="1.5" fill="none"/>
<path d="M1103.5,633.2 C1102.72,635.73 1095.00,658.50 1094.1,663.5 C1093.20,668.50 1092.17,688.19 1092.7,693.2 C1093.23,698.21 1104.72,718.54 1100.5,723.6 C1096.28,728.66 1046.27,743.83 1042.1,753.9 C1037.92,763.97 1049.71,836.86 1050.4,844.4" fill="none" stroke="#7030A0" stroke-width="3.1"/>
<path d="M1103.5,624.7 L1111.5,633.2 L1103.5,641.7 L1095.5,633.2Z" fill="#7030A0" stroke="#000" stroke-width="1.7"/>
<path d="M1094.1,655.0 L1102.1,663.5 L1094.1,672.0 L1086.1,663.5Z" fill="#7030A0" stroke="#000" stroke-width="1.7"/>
<path d="M1092.7,684.7 L1100.7,693.2 L1092.7,701.7 L1084.7,693.2Z" fill="#7030A0" stroke="#000" stroke-width="1.7"/>
<path d="M1100.5,715.1 L1108.5,723.6 L1100.5,732.1 L1092.5,723.6Z" fill="#7030A0" stroke="#000" stroke-width="1.7"/>
<path d="M1042.1,745.4 L1050.1,753.9 L1042.1,762.4 L1034.1,753.9Z" fill="#7030A0" stroke="#000" stroke-width="1.7"/>
<path d="M1050.4,835.9 L1058.4,844.4 L1050.4,852.9 L1042.4,844.4Z" fill="#7030A0" stroke="#000" stroke-width="1.7"/>
<line x1="912.7" y1="900.7" x2="952.5" y2="900.7" stroke="#000" stroke-width="2.5"/>
<rect x="927" y="895.2" width="11" height="11" fill="#000"/>
<text x="956" y="905.6" font-family="'Liberation Serif', serif" font-weight="bold" font-size="13.5"><tspan font-style="italic">δ</tspan><tspan font-size="9" dy="-5">13</tspan><tspan dy="5" textLength="36" lengthAdjust="spacingAndGlyphs">C (‰)</tspan></text>
<line x1="1023.2" y1="900.7" x2="1063.6" y2="900.7" stroke="#7030A0" stroke-width="2.5"/>
<path d="M1043.2,895.3 L1048.6,900.7 L1043.2,906.1 L1037.8,900.7Z" fill="#7030A0" stroke="#000" stroke-width="1.2"/>
<text x="1066.5" y="905.6" font-family="'Liberation Serif', serif" font-weight="bold" font-size="13.5" textLength="55" lengthAdjust="spacingAndGlyphs">C/N ratio</text>
</svg></body></html>
